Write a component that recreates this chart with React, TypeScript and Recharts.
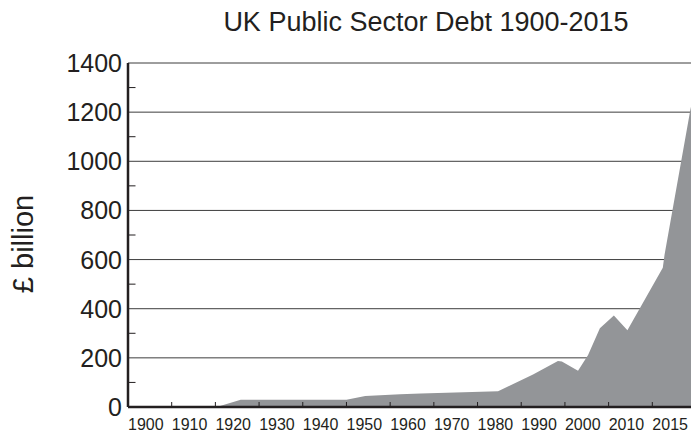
import React from "react";
import { AreaChart, Area, XAxis, YAxis, CartesianGrid } from "recharts";

// positions (year, £ billion)
const YEARS = [
  1895, 1915.3, 1920.8, 1945, 1949.3, 1957.3, 1962, 1979.7, 1987.7, 1993.4,
  1994.3, 1998, 2000.3, 2003, 2006.2, 2009.3, 2017.4, 2017.8, 2023.7, 2025,
];
const DEBT = [
  0, 0, 30, 29, 45, 52, 55, 64, 132, 187, 185, 148, 212, 321, 372, 312, 567,
  620, 1209, 1320,
];

const X_TICKS = [1900, 1910, 1920, 1930, 1940, 1950, 1960, 1970, 1980, 1990, 2000, 2010, 2020];
const X_LABELS = ["1900", "1910", "1920", "1930", "1940", "1950", "1960", "1970", "1980", "1990", "2000", "2010", "2015"];
const Y_TICKS = [0, 100, 200, 300, 400, 500, 600, 700, 800, 900, 1000, 1100, 1200, 1300, 1400];
const GRID_VALUES = [200, 400, 600, 800, 1000, 1200, 1400];

const TITLE = "UK Public Sector Debt 1900-2015";
const Y_TITLE = "£ billion";

const data = YEARS.map((year, i) => ({ year, debt: DEBT[i] }));

const FONT = "Arial, 'Liberation Sans', sans-serif";
const INK = "#231f20";
const CHART_W = 720;
const CHART_H = 438;
const PLOT_LEFT = 128;
const PLOT_RIGHT = 696;
const HALF_BAND = (PLOT_RIGHT - PLOT_LEFT) / 26;

const XTick = (props: any) => {
  const { x, y, index } = props;
  return (
    <g>
      <line x1={x + HALF_BAND} x2={x + HALF_BAND} y1={y - 1} y2={y - 5} stroke={INK} strokeWidth={1} />
      <text x={x - 4} y={y + 23} textAnchor="middle" fontSize={16} fontFamily={FONT} fill={INK}>
        {X_LABELS[index]}
      </text>
    </g>
  );
};

const YTick = (props: any) => {
  const { y, payload } = props;
  const v = payload.value;
  if (v % 200 !== 0) {
    return <line x1={PLOT_LEFT} x2={PLOT_LEFT + 7.5} y1={y} y2={y} stroke={INK} strokeWidth={1} />;
  }
  return (
    <text x={PLOT_LEFT - 6} y={y + 9} textAnchor="end" fontSize={25} fontFamily={FONT} fill={INK}>
      {v}
    </text>
  );
};

export default function App() {
  return (
    <div
      style={{
        position: "absolute",
        left: 0,
        top: 0,
        width: 691,
        height: 438,
        overflow: "hidden",
        background: "#fff",
      }}
    >
      <AreaChart
        width={CHART_W}
        height={CHART_H}
        data={data}
        margin={{ top: 63, right: CHART_W - PLOT_RIGHT, left: 0, bottom: 0 }}
      >
        <CartesianGrid
          vertical={false}
          horizontalValues={GRID_VALUES}
          stroke="#3d3d3d"
          strokeWidth={1}
        />
        <Area
          type="linear"
          dataKey="debt"
          stroke="none"
          fill="#939598"
          fillOpacity={1}
          isAnimationActive={false}
        />
        <XAxis
          dataKey="year"
          type="number"
          domain={[1895, 2025]}
          ticks={X_TICKS}
          interval={0}
          allowDataOverflow
          height={31}
          tickSize={0}
          tickMargin={0}
          tickLine={false}
          axisLine={{ stroke: INK, strokeWidth: 2.5 }}
          tick={<XTick />}
        />
        <YAxis
          type="number"
          domain={[0, 1400]}
          ticks={Y_TICKS}
          interval={0}
          width={PLOT_LEFT}
          tickSize={0}
          tickMargin={6}
          tickLine={false}
          axisLine={{ stroke: INK, strokeWidth: 2.5 }}
          tick={<YTick />}
        />
      </AreaChart>
      <svg
        width={691}
        height={438}
        style={{ position: "absolute", left: 0, top: 0, pointerEvents: "none" }}
      >
        <text x={426} y={31} textAnchor="middle" fontSize={27} fontFamily={FONT} fill={INK}>
          {TITLE}
        </text>
        <text
          x={0}
          y={0}
          transform="translate(33 244) rotate(-90)"
          textAnchor="middle"
          fontSize={29}
          fontFamily={FONT}
          fill={INK}
        >
          {Y_TITLE}
        </text>
      </svg>
    </div>
  );
}
